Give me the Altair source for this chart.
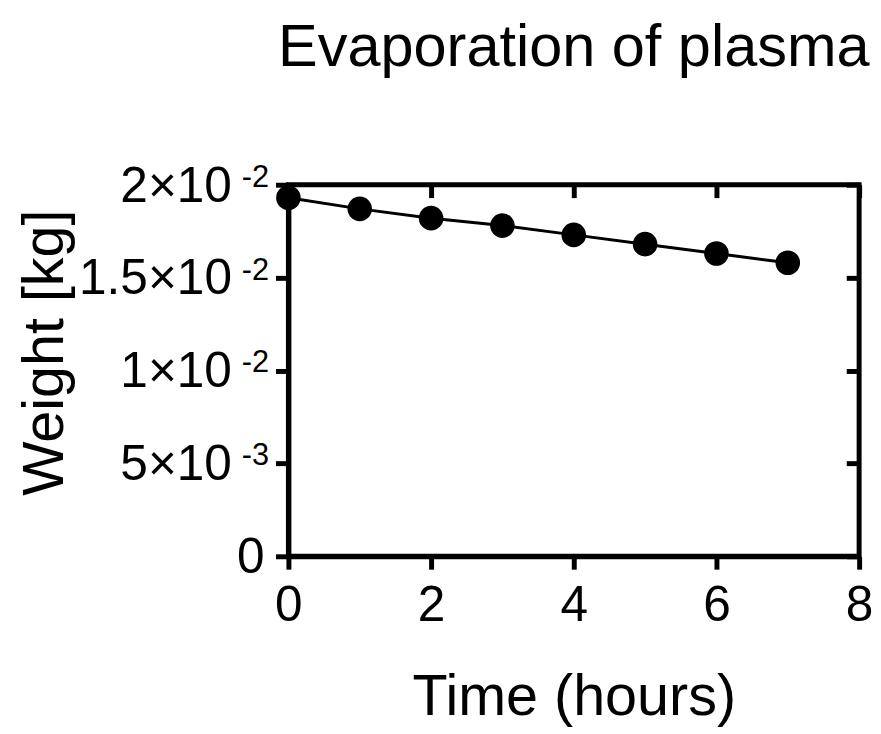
import altair as alt
import pandas as pd

times = [0, 1, 2, 3, 4, 5, 6, 7]
weights = [0.0193, 0.0187, 0.0182, 0.0178, 0.0173, 0.0168, 0.0163, 0.0158]

x_ticks = [0, 2, 4, 6, 8]
y_ticks = [0.005, 0.01, 0.015, 0.02]
y_mantissa = ["5×10", "1×10", "1.5×10", "2×10"]
y_exponent = ["-3", "-2", "-2", "-2"]
y_zero = [0]
y_zero_label = ["0"]
title_text = ["Evaporation of plasma"]

FONT = "Liberation Sans"

df = pd.DataFrame({"time": times, "weight": weights})
lab = pd.DataFrame({"v": y_ticks, "m": y_mantissa, "e": y_exponent})
zero = pd.DataFrame({"v": y_zero, "m": y_zero_label})
ttl = pd.DataFrame({"t": title_text})

xscale = alt.Scale(domain=[0, 8], nice=False, zero=False)
yscale = alt.Scale(domain=[0, 0.02], nice=False)

x_axis = alt.Axis(
    values=x_ticks, orient="bottom", title="Time (hours)", grid=False,
    domainWidth=5, domainColor="black", tickColor="black", tickWidth=5, tickSize=13,
    labelFont=FONT, labelFontSize=50, labelColor="black", labelPadding=12,
    labelAngle=0, labelFlush=False, labelOverlap=False,
    titleFont=FONT, titleFontSize=58, titleFontWeight="normal", titleColor="black",
    titleBaseline="alphabetic", titleAlign="center", titleX=288, titleY=160,
)
y_axis = alt.Axis(
    values=[0] + y_ticks, orient="left", title="Weight [kg]", grid=False, labels=False,
    domainWidth=5, domainColor="black", tickColor="black", tickWidth=5, tickSize=13,
    titleFont=FONT, titleFontSize=58, titleFontWeight="normal", titleColor="black",
    titleBaseline="alphabetic", titleAlign="center", titleAngle=270,
    titleX=-228, titleY=169,
)
x_top = alt.Axis(
    values=x_ticks, orient="top", offset=-13, domain=False, labels=False, title=None,
    grid=False, tickColor="black", tickWidth=5, tickSize=13,
)
y_right = alt.Axis(
    values=[0] + y_ticks, orient="right", offset=-13, domain=False, labels=False, title=None,
    grid=False, tickColor="black", tickWidth=5, tickSize=13,
)

base = alt.Chart(df)

line = base.mark_line(color="black", strokeWidth=3).encode(
    x=alt.X("time:Q", scale=xscale, axis=x_axis),
    y=alt.Y("weight:Q", scale=yscale, axis=y_axis),
)
points = base.mark_circle(color="black", opacity=1, size=616).encode(
    x=alt.X("time:Q", scale=xscale, axis=None),
    y=alt.Y("weight:Q", scale=yscale, axis=None),
)
mirror = base.mark_point(opacity=0).encode(
    x=alt.X("time:Q", scale=xscale, axis=x_top),
    y=alt.Y("weight:Q", scale=yscale, axis=y_right),
)

mant = alt.Chart(lab).mark_text(
    align="right", baseline="alphabetic", font=FONT, fontSize=50, color="black", dy=17
).encode(x=alt.value(-57), y=alt.Y("v:Q", scale=yscale, axis=None), text="m:N")
expo = alt.Chart(lab).mark_text(
    align="left", baseline="alphabetic", font=FONT, fontSize=31, color="black", dy=2
).encode(x=alt.value(-47), y=alt.Y("v:Q", scale=yscale, axis=None), text="e:N")
zlab = alt.Chart(zero).mark_text(
    align="right", baseline="alphabetic", font=FONT, fontSize=50, color="black", dy=17
).encode(x=alt.value(-24), y=alt.Y("v:Q", scale=yscale, axis=None), text="m:N")
title = alt.Chart(ttl).mark_text(
    align="center", baseline="alphabetic", font=FONT, fontSize=60, color="black"
).encode(x=alt.value(288), y=alt.value(-120), text="t:N")

chart = alt.layer(line, points, mirror, mant, expo, zlab, title).resolve_axis(
    x="independent", y="independent"
).properties(
    width=576, height=375,
    autosize=alt.AutoSizeParams(type="none"),
    padding={"left": 283, "top": 175, "right": 14, "bottom": 176},
).configure_view(stroke="black", strokeWidth=5)

chart.save("out.html", embed_options={"renderer": "svg", "actions": False})
